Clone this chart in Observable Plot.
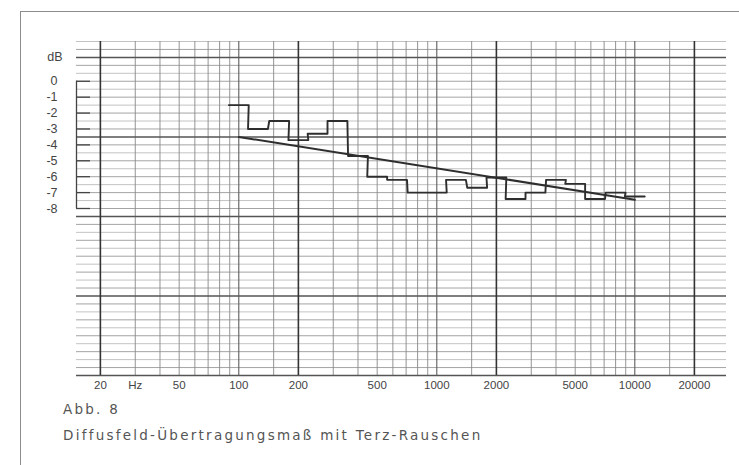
<!DOCTYPE html>
<html>
<head>
<meta charset="utf-8">
<script src="https://cdn.jsdelivr.net/npm/d3@7"></script>
<script src="https://cdn.jsdelivr.net/npm/@observablehq/plot@0.6"></script>
<style>
html, body { margin: 0; padding: 0; background: #fff; }
#wrap { position: relative; width: 739px; height: 465px; overflow: hidden; background: #fff; }
#frame { position: absolute; left: 20px; top: 11px; width: 740px; height: 470px;
  border-top: 1.5px solid #8c8c8c; border-left: 1.5px solid #8c8c8c; }
#chart { position: absolute; left: 0; top: 0; }
#caption { position: absolute; left: 63px; top: 396px; font-family: "DejaVu Sans", sans-serif;
  font-size: 13.5px; letter-spacing: 2.25px; color: #555; line-height: 26px; white-space: nowrap; }
</style>
</head>
<body>
<div id="wrap">
  <div id="frame"></div>
  <div id="chart"></div>
  <div id="caption"><div>Abb. 8</div><div>Diffusfeld-Übertragungsmaß mit Terz-Rauschen</div></div>
</div>
<script>
// Third-octave band centre frequencies (Hz) and measured levels (dB)
const bandCenters = [100, 125, 160, 200, 250, 315, 400, 500, 630, 800, 1000, 1250, 1600, 2000, 2500, 3150, 4000, 5000, 6300, 8000, 10000];
const bandLevels  = [-1.5, -3.0, -2.5, -3.7, -3.3, -2.5, -4.7, -6.0, -6.2, -7.0, -7.0, -6.2, -6.7, -6.05, -7.4, -7.0, -6.2, -6.45, -7.4, -7.0, -7.25];

// Straight trend line
const trendFreq  = [100, 10000];
const trendLevel = [-3.5, -7.45];

// Axis ticks and labels
const yTickValues = [0, -1, -2, -3, -4, -5, -6, -7, -8];
const yTickLabels = ["0", "-1", "-2", "-3", "-4", "-5", "-6", "-7", "-8"];
const yUnit = "dB";
const xTickValues = [20, 30, 50, 100, 200, 500, 1000, 2000, 5000, 10000, 20000];
const xTickLabels = ["20", "Hz", "50", "100", "200", "500", "1000", "2000", "5000", "10000", "20000"];

// Log paper grid lines (Hz)
const gridBoldFreq   = [20, 200, 2000, 20000];
const gridDecadeFreq = [100, 1000, 10000];
const gridMinorFreq  = [30, 40, 50, 60, 70, 80, 90, 150, 300, 400, 500, 600, 700, 800, 900,
                        1500, 3000, 4000, 5000, 6000, 7000, 8000, 9000, 15000];

// paper extent
const xMin = 15.15, xMax = 29050;
const yMin = -18.5, yMax = 2.5;

// derived tables
const stepPoints = bandCenters.flatMap((f, i) => [
  {f: f * Math.pow(2, -1/6), v: bandLevels[i]},
  {f: f * Math.pow(2, 1/6), v: bandLevels[i]}
]);
const trend = trendFreq.map((f, i) => ({f, v: trendLevel[i]}));
const yTicks = yTickValues.map((v, i) => ({v, label: yTickLabels[i]}));
const xTicks = xTickValues.map((f, i) => ({f, label: xTickLabels[i]}));

const hLines = d3.range(yMin, yMax + 0.001, 0.5);
const hBold = hLines.filter(v => Math.abs(((v - 1.5) % 5 + 5) % 5) < 1e-6);
const hInt = hLines.filter(v => Number.isInteger(v) && !hBold.includes(v));
const hHalf = hLines.filter(v => !Number.isInteger(v) && !hBold.includes(v));

const textStyle = {fill: "#444", fontFamily: "Liberation Sans, sans-serif"};

const plot = Plot.plot({
  width: 739,
  height: 400,
  marginLeft: 76,
  marginRight: 13,
  marginTop: 41,
  marginBottom: 25,
  style: {background: "transparent", fontFamily: "Liberation Sans, sans-serif", fontSize: "12px", color: "#444"},
  x: {type: "log", domain: [xMin, xMax], axis: null},
  y: {domain: [yMin, yMax], axis: null},
  marks: [
    // horizontal paper grid
    Plot.ruleY(hHalf, {stroke: "#b4b4b4", strokeWidth: 0.8}),
    Plot.ruleY(hInt, {stroke: "#9a9a9a", strokeWidth: 0.9}),
    // vertical paper grid
    Plot.ruleX(gridMinorFreq, {stroke: "#888", strokeWidth: 0.9}),
    Plot.ruleX(gridDecadeFreq, {stroke: "#5e5e5e", strokeWidth: 1.1}),
    Plot.ruleY(hBold, {stroke: "#555", strokeWidth: 1.5}),
    Plot.ruleX(gridBoldFreq, {stroke: "#333", strokeWidth: 1.6}),
    // y scale bracket
    Plot.ruleX([xMin], {y1: yTickValues[0], y2: yTickValues[yTickValues.length - 1], stroke: "#444", strokeWidth: 1.3}),
    Plot.ruleY(yTickValues, {insetRight: 636, stroke: "#444", strokeWidth: 1.3}),
    // tick labels
    Plot.text(yTicks, {x: xMin, y: "v", text: "label", dx: -19, textAnchor: "end", fontSize: 12.5,
      style: "letter-spacing:1.2px", ...textStyle}),
    Plot.text([yUnit], {x: xMin, y: 1.5, dx: -14, textAnchor: "end", fontSize: 12.5,
      style: "letter-spacing:1.2px", ...textStyle}),
    Plot.text(xTicks, {x: "f", y: yMin, text: "label", dy: 5, lineAnchor: "top", fontSize: 11.5, ...textStyle}),
    // data
    Plot.line(stepPoints, {x: "f", y: "v", stroke: "#2e2e2e", strokeWidth: 1.9}),
    Plot.line(trend, {x: "f", y: "v", stroke: "#2e2e2e", strokeWidth: 2})
  ]
});
document.getElementById("chart").appendChild(plot);
</script>
</body>
</html>
